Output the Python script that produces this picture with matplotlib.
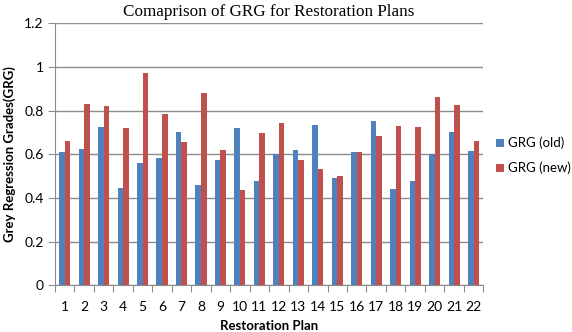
import matplotlib
matplotlib.use("Agg")
import matplotlib.pyplot as plt
import numpy as np

plans = list(range(1, 23))
grg_old = [0.611, 0.626, 0.725, 0.444, 0.560, 0.585, 0.701, 0.461, 0.575, 0.719, 0.476,
           0.600, 0.621, 0.736, 0.493, 0.609, 0.754, 0.443, 0.476, 0.601, 0.701, 0.617]
grg_new = [0.660, 0.829, 0.823, 0.720, 0.971, 0.786, 0.658, 0.880, 0.620, 0.438, 0.699,
           0.745, 0.575, 0.533, 0.499, 0.612, 0.683, 0.731, 0.725, 0.863, 0.825, 0.661]
y_ticks = [0, 0.2, 0.4, 0.6, 0.8, 1, 1.2]
y_tick_labels = ["0", "0.2", "0.4", "0.6", "0.8", "1", "1.2"]

BLUE = "#4F81BD"
RED = "#C0504D"
GRID = "#8C8C8C"
sans = ["Lato", "DejaVu Sans"]

fig = plt.figure(figsize=(5.72, 3.32), dpi=100)
ax = fig.add_axes([0.096, 0.1407, 0.749, 0.789])

x = np.array(plans)
w = 0.286
ax.bar(x - w / 2, grg_old, width=w, color=BLUE, label="GRG (old)", zorder=3)
ax.bar(x + w / 2, grg_new, width=w, color=RED, label="GRG (new)", zorder=3)

ax.set_xlim(0.5, 22.5)
ax.set_ylim(0, 1.2)
ax.set_yticks(y_ticks)
ax.set_yticklabels(y_tick_labels, family=sans, fontsize=10)
ax.yaxis.grid(True, color=GRID, linewidth=1, zorder=0)

# ticks between categories, labels at category centres
ax.set_xticks(np.arange(0.5, 23, 1))
ax.set_xticklabels([])
ax.set_xticks(x, minor=True)
ax.set_xticklabels([str(p) for p in plans], minor=True, family=sans, fontsize=10)
ax.tick_params(axis="x", which="major", length=5, color=GRID, direction="out")
ax.tick_params(axis="x", which="minor", length=0, pad=11)
ax.tick_params(axis="y", length=5, color=GRID, direction="out", pad=3)

for side in ["top", "right"]:
    ax.spines[side].set_visible(False)
for side in ["left", "bottom"]:
    ax.spines[side].set_color(GRID)

ax.set_xlabel("Restoration Plan", family=sans, fontsize=9.5, fontweight="bold", labelpad=5)
ax.set_ylabel("Grey Regression Grades(GRG)", family=sans, fontsize=9.5, fontweight="bold", labelpad=6)
ax.set_title("Comaprison of GRG for Restoration Plans", family="Liberation Serif", fontsize=12.3, pad=5)

ax.legend(loc="center left", bbox_to_anchor=(1.03, 0.495), frameon=False,
          prop={"family": sans, "size": 9.5}, handlelength=0.6, handleheight=0.6,
          handletextpad=0.3, labelspacing=0.95, borderaxespad=0, borderpad=0)

fig.savefig("out.png", dpi=100)
